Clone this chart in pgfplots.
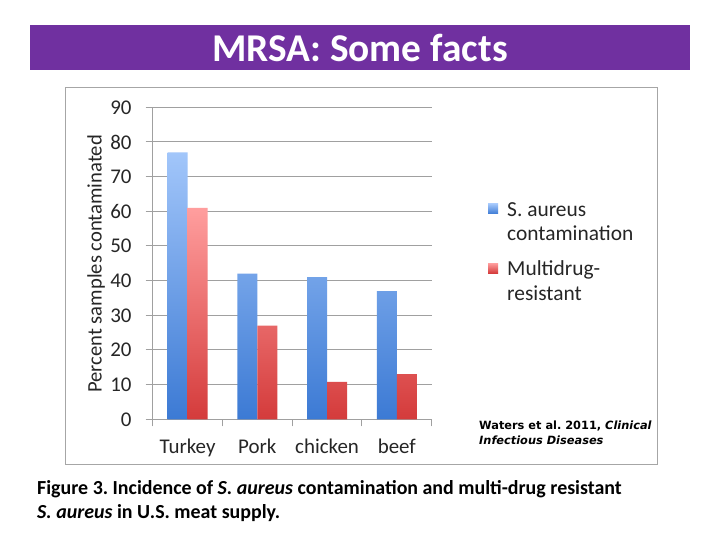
\documentclass[border=0pt]{standalone}
\usepackage{pgfplots}
\pgfplotsset{compat=1.18}
\usepackage{fontspec}
\setmainfont{Carlito}
\newfontfamily\srcfont{DejaVu Sans}
\frenchspacing
\definecolor{banner}{HTML}{7030A0}
\definecolor{framegray}{HTML}{A6A6A6}
\definecolor{axgray}{HTML}{A0A0A0}
\definecolor{txt}{HTML}{262626}
\definecolor{blueT}{HTML}{A2C6FA}
\definecolor{blueB}{HTML}{3C7AD4}
\definecolor{redT}{HTML}{FF9E9E}
\definecolor{redB}{HTML}{D43B3B}
\definecolor{legblue}{HTML}{4A87DA}
\definecolor{legred}{HTML}{E05858}
\begin{document}
\frenchspacing
\begin{tikzpicture}[x=1bp,y=1bp]
\fill[white] (0,0) rectangle (720,540);
\fill[banner] (30,470) rectangle (690,515);
\node[white, inner sep=0pt, font=\fontsize{39.5}{47}\selectfont\bfseries] at (360,492.5) {MRSA: Some facts};
\draw[framegray, line width=1bp] (65,75) rectangle (657,452);
\begin{axis}[
  at={(152.7bp,120.7bp)}, anchor=south west,
  scale only axis, width=279bp, height=312bp,
  xmin=-0.5, xmax=3.5, ymin=0, ymax=90,
  ybar=0pt, bar width=20bp,
  axis x line*=bottom, axis y line*=left,
  axis line style={draw=axgray, line width=1bp, -},
  ymajorgrids, grid style={draw=axgray, line width=1bp},
  tick align=outside, major tick length=7bp,
  tick style={draw=axgray, line width=1bp},
  ytick={0,10,...,90},
  xtick={-0.5,0.5,1.5,2.5,3.5}, xticklabels={},
  extra x ticks={0,1,2,3},
  extra x tick labels={Turkey,Pork,chicken,beef},
  extra x tick style={major tick length=0pt, xmajorgrids=false},
  /pgf/number format/assume math mode=true,
  yticklabel style={anchor=east, inner sep=0pt, xshift=-14bp, text=txt, font=\fontsize{21}{25}\selectfont},
  xticklabel style={anchor=base, inner sep=0pt, yshift=-34bp, text=txt, font=\fontsize{21}{25}\selectfont},
  ylabel={Percent samples contaminated},
  ylabel style={at={(axis description cs:-0.203,0.498)}, anchor=center, rotate=0, text=txt, font=\fontsize{20.7}{25}\selectfont},
  legend style={at={(axis description cs:1.2018,0.703)}, anchor=north west, draw=none, fill=none, inner sep=0pt,
    font=\fontsize{21.5}{25}\selectfont, text=txt, row sep=14bp,
    cells={anchor=base west, align=left, inner sep=0pt},
    /tikz/every odd column/.append style={column sep=7bp}},
]
\addplot[draw=none, top color=blueT, bottom color=blueB,
  legend image code/.code={\fill[legblue] (0bp,27bp) rectangle (10bp,37bp);}]
  coordinates {(0,77) (1,42) (2,41) (3,37)};
\addlegendentry{S. aureus\\contamination}
\addplot[draw=none, top color=redT, bottom color=redB,
  legend image code/.code={\fill[legred] (0bp,27bp) rectangle (10bp,37bp);}]
  coordinates {(0,61) (1,27) (2,10.8) (3,13)};
\addlegendentry{Multidrug-\\resistant}
\end{axis}
\node[anchor=base west, inner sep=0pt, font=\fontsize{11.4}{13}\srcfont\bfseries] at (479,110) {Waters et al.\ 2011, \textit{Clinical}};
\node[anchor=base west, inner sep=0pt, font=\fontsize{11.4}{13}\srcfont\bfseries] at (479,95) {\textit{Infectious Diseases}};
\node[anchor=base west, inner sep=0pt, font=\fontsize{20}{24}\selectfont\bfseries] at (37,45) {Figure 3.\ Incidence of \textit{S. aureus} contamination and multi-drug resistant};
\node[anchor=base west, inner sep=0pt, font=\fontsize{20}{24}\selectfont\bfseries] at (37,21) {\textit{S. aureus} in U.S.\ meat supply.};
\end{tikzpicture}
\end{document}
